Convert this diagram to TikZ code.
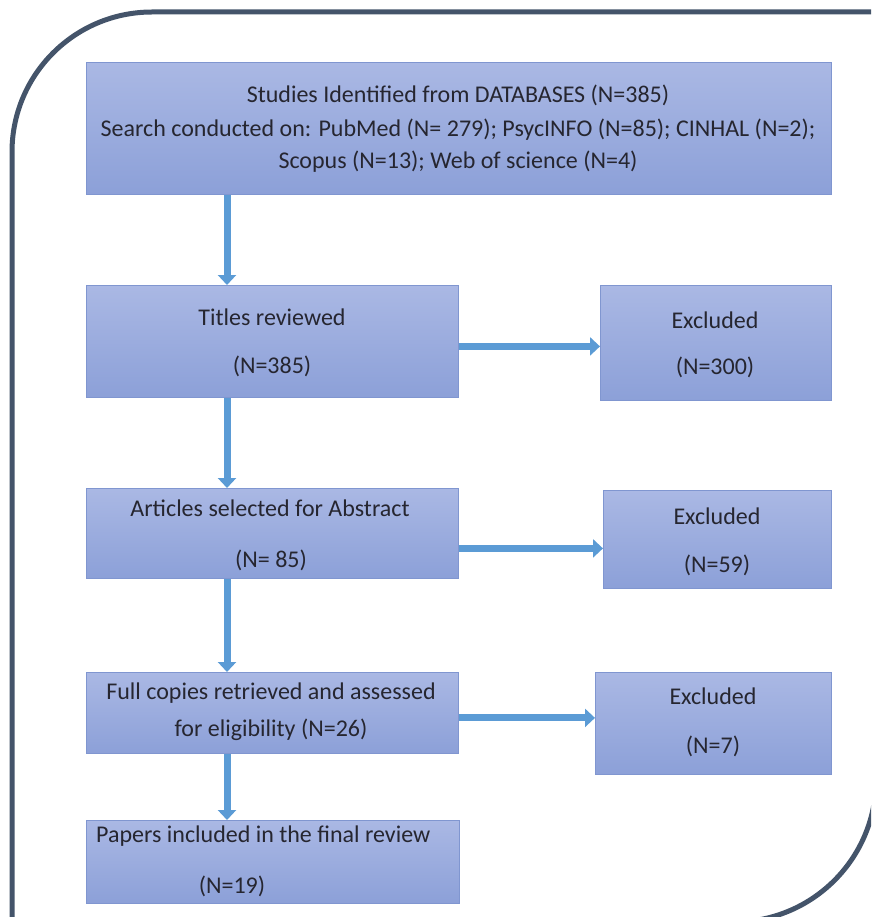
\documentclass[tikz,border=0pt]{standalone}
\usepackage{fontspec}
\setmainfont{Carlito}
\usetikzlibrary{arrows.meta}
\definecolor{framecol}{HTML}{44546A}
\definecolor{arrowcol}{HTML}{5B9BD5}
\definecolor{boxtop}{RGB}{170,184,228}
\definecolor{boxbot}{RGB}{140,160,216}
\definecolor{boxline}{RGB}{128,150,208}
\definecolor{txt}{RGB}{38,38,48}
\tikzset{
  stagebox/.style={rectangle, anchor=north west, inner sep=0pt,
    top color=boxtop, bottom color=boxbot, draw=boxline, line width=0.8pt},
  lbl/.style={font=\fontsize{24}{28}\selectfont, text=txt, inner sep=0pt},
  flow/.style={draw=arrowcol, line width=7pt,
    -{Triangle[width=18pt,length=10pt,fill=arrowcol]}},
  border/.style={draw=framecol, line width=5pt}
}
\begin{document}
\begin{tikzpicture}[x=1pt,y=-1pt]
\useasboundingbox (0,0) rectangle (871,917);
\clip (0,0) rectangle (871,917);

% outer frame: two rounded corners
\draw[border, rounded corners=140pt] (12,980) -- (12,12) -- (980,12);
\draw[border, rounded corners=142pt] (876,-60) -- (876,922) -- (-60,922);

% stage boxes
\node[stagebox, minimum width=745pt, minimum height=132pt] (db) at (86,62) {};
\node[stagebox, minimum width=372pt, minimum height=112pt] (titles) at (86,285) {};
\node[stagebox, minimum width=231pt, minimum height=115pt] (ex1) at (600,285) {};
\node[stagebox, minimum width=372pt, minimum height=90pt] (abs) at (86,488) {};
\node[stagebox, minimum width=228pt, minimum height=98pt] (ex2) at (603,490) {};
\node[stagebox, minimum width=372pt, minimum height=81pt] (full) at (86,672) {};
\node[stagebox, minimum width=236pt, minimum height=102pt] (ex3) at (595,672) {};
\node[stagebox, minimum width=373pt, minimum height=83pt] (final) at (86,820) {};

% labels
\node[lbl] (db1) at (458,95) {Studies Identified from DATABASES (N=385)};
\node[lbl] (db2) at (458,130) {Search conducted on: PubMed (N= 279); PsycINFO (N=85); CINHAL (N=2);};
\node[lbl] (db3) at (458,162) {Scopus (N=13); Web of science (N=4)};

\node[lbl] (t1) at (272,317) {Titles reviewed};
\node[lbl] (t2) at (272,366) {(N=385)};
\node[lbl] (e1a) at (715,320) {Excluded};
\node[lbl] (e1b) at (715,367) {(N=300)};

\node[lbl] (a1) at (270,508) {Articles selected for Abstract};
\node[lbl] (a2) at (271,560) {(N= 85)};
\node[lbl] (e2a) at (717,516) {Excluded};
\node[lbl] (e2b) at (717,565) {(N=59)};

\node[lbl] (f1) at (271,693) {Full copies retrieved and assessed};
\node[lbl] (f2) at (271,730) {for eligibility (N=26)};
\node[lbl] (e3a) at (713,696) {Excluded};
\node[lbl] (e3b) at (713,746) {(N=7)};

\node[lbl, anchor=west] (p1) at (96,836) {Papers included in the final review};
\node[lbl] (p2) at (232,886) {(N=19)};

% connectors
\coordinate (vx) at (227,0);
\draw[flow] (vx |- db.south) -- (vx |- titles.north);
\draw[flow] (vx |- titles.south) -- (vx |- abs.north);
\draw[flow] (vx |- abs.south) -- (vx |- full.north);
\draw[flow] (vx |- full.south) -- (vx |- final.north);

\coordinate (h1) at ([yshift=-5pt]titles.east);
\coordinate (h2) at ([yshift=-15pt]abs.east);
\coordinate (h3) at ([yshift=-5pt]full.east);
\draw[flow] (h1) -- (ex1.west |- h1);
\draw[flow] (h2) -- (ex2.west |- h2);
\draw[flow] (h3) -- (ex3.west |- h3);
\end{tikzpicture}
\end{document}
